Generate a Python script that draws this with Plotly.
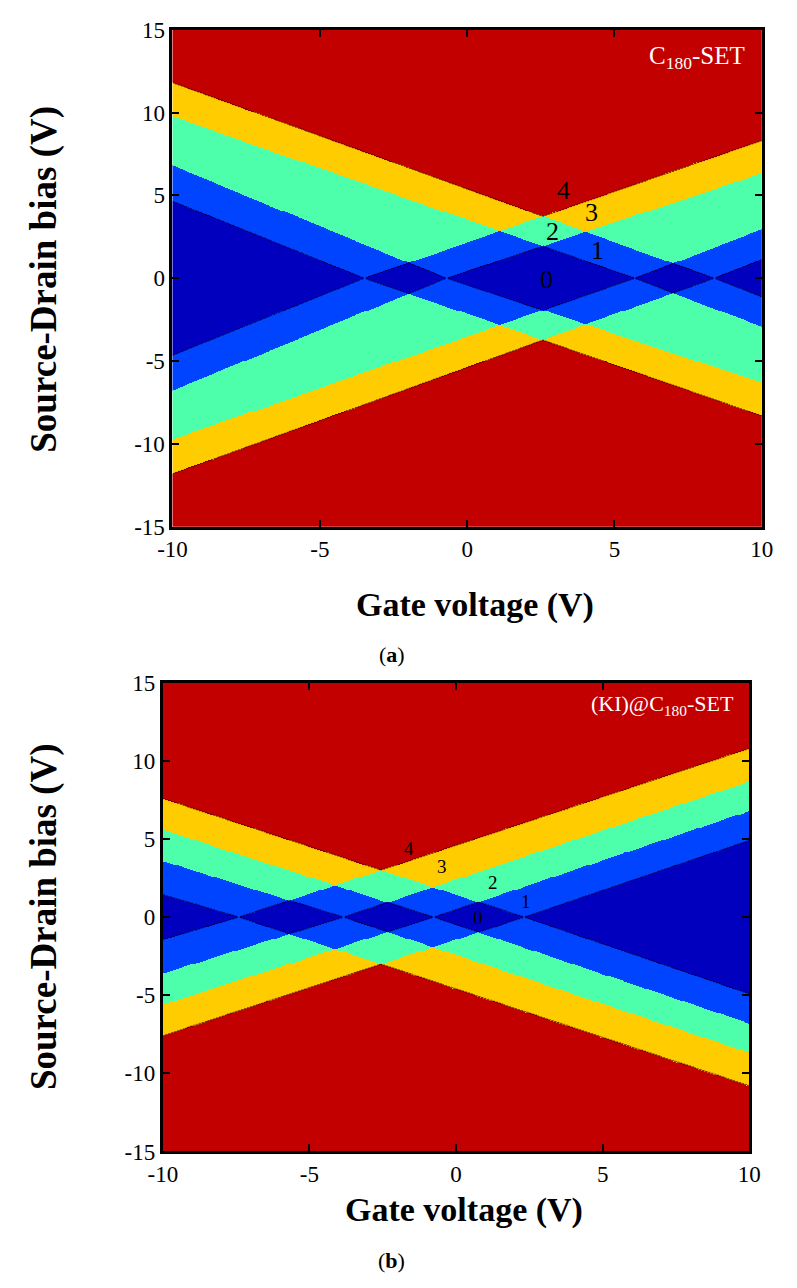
import numpy as np
import plotly.graph_objects as go

# ---------------- data ----------------
# Panel (a): C180-SET  -- charge-degeneracy gate voltages (V) where the
# zero-current diamonds touch Vsd = 0, and slopes of the edges of each cone
A_GATE_DEG = [-3.49, -0.70, 5.69, 8.39]
A_SLOPE_LEFT = [0.714, 0.730, 0.621, 0.642]
A_SLOPE_RIGHT = [0.616, 0.590, 0.682, 0.696]

# Panel (b): (KI)@C180-SET
B_GATE_DEG = [-7.41, -3.84, -0.76, 2.33]
B_SLOPE_LEFT = [0.556, 0.584, 0.606, 0.616]
B_SLOPE_RIGHT = [0.620, 0.626, 0.630, 0.639]

# in-plot region labels
A_LABEL_TEXT = ["4", "3", "2", "1", "0"]
A_LABEL_X = [3.26, 4.22, 2.91, 4.44, 2.69]
A_LABEL_Y = [5.27, 3.98, 2.80, 1.68, -0.05]
B_LABEL_TEXT = ["4", "3", "2", "1", "0"]
B_LABEL_X = [-1.59, -0.49, 1.27, 2.37, 0.75]
B_LABEL_Y = [4.41, 3.22, 2.24, 1.02, 0.0]

X_TICKS = [-10, -5, 0, 5, 10]
Y_TICKS = [-15, -10, -5, 0, 5, 10, 15]
X_TICK_TEXT = ["-10", "-5", "0", "5", "10"]
Y_TICK_TEXT = ["-15", "-10", "-5", "0", "5", "10", "15"]
X_RANGE = [-10, 10]
Y_RANGE = [-15, 15]

LEVEL_COLORS = ["#0000BE", "#0044FF", "#4DFFAA", "#FFCC00", "#C20000"]

W, H = 797, 1288
SERIF = "Liberation Serif, Times New Roman, serif"


def occupancy(gates, s_left, s_right, xs, ys):
    X, Y = np.meshgrid(xs, ys)
    z = np.zeros(X.shape, dtype=np.int8)
    for g, a, b in zip(gates, s_left, s_right):
        edge = np.where(X < g, a * (g - X), b * (X - g))
        z += (np.abs(Y) > edge).astype(np.int8)
    return np.minimum(z, 4)


def discrete_scale(colors):
    n = len(colors)
    sc = []
    for i, c in enumerate(colors):
        sc.append([i / n, c])
        sc.append([(i + 1) / n, c])
    return sc


xs = np.linspace(X_RANGE[0], X_RANGE[1], 611)
ys = np.linspace(Y_RANGE[0], Y_RANGE[1], 508)
zA = occupancy(A_GATE_DEG, A_SLOPE_LEFT, A_SLOPE_RIGHT, xs, ys)
zB = occupancy(B_GATE_DEG, B_SLOPE_LEFT, B_SLOPE_RIGHT, xs, ys)

fig = go.Figure()
cs = discrete_scale(LEVEL_COLORS)
for z, xa, ya in [(zA, "x", "y"), (zB, "x2", "y2")]:
    fig.add_trace(go.Heatmap(x=xs, y=ys, z=z, colorscale=cs, zmin=-0.5, zmax=4.5,
                             showscale=False, hoverinfo="skip", xaxis=xa, yaxis=ya))
    for lev, col in [(0.5, "rgba(0,0,70,0.8)"), (3.5, "rgba(90,0,0,0.8)")]:
        fig.add_trace(go.Contour(x=xs, y=ys, z=z, autocontour=False,
                                 contours=dict(start=lev, end=lev, size=1, coloring="none"),
                                 line=dict(color=col, width=1), showscale=False,
                                 hoverinfo="skip", xaxis=xa, yaxis=ya))


def px_dom_x(a, b):
    return [a / W, b / W]


def px_dom_y(top, bottom):
    return [1 - bottom / H, 1 - top / H]


axis_common = dict(showgrid=False, zeroline=False, showline=True, linewidth=3,
                   linecolor="black", mirror="ticks", ticks="inside", ticklen=7,
                   tickwidth=2, tickcolor="black",
                   tickfont=dict(family=SERIF, size=23, color="black"))

fig.update_layout(
    width=W, height=H, margin=dict(l=0, r=0, t=0, b=0),
    paper_bgcolor="white", plot_bgcolor="white", showlegend=False,
    xaxis=dict(domain=px_dom_x(163, 773), range=X_RANGE, tickvals=X_TICKS,
               ticktext=X_TICK_TEXT, anchor="y", **axis_common),
    yaxis=dict(domain=px_dom_y(18, 525), range=Y_RANGE, tickvals=Y_TICKS,
               ticktext=Y_TICK_TEXT, anchor="x", **axis_common),
    xaxis2=dict(domain=px_dom_x(153, 760), range=X_RANGE, tickvals=X_TICKS,
                ticktext=X_TICK_TEXT, anchor="y2", **axis_common),
    yaxis2=dict(domain=px_dom_y(684, 1162), range=Y_RANGE, tickvals=Y_TICKS,
                ticktext=Y_TICK_TEXT, anchor="x2", **axis_common),
)

ann = []
for t, x, y in zip(A_LABEL_TEXT, A_LABEL_X, A_LABEL_Y):
    ann.append(dict(text=t, x=x, y=y, xref="x", yref="y", showarrow=False,
                    font=dict(family=SERIF, size=26, color="black")))
for t, x, y in zip(B_LABEL_TEXT, B_LABEL_X, B_LABEL_Y):
    ann.append(dict(text=t, x=x, y=y, xref="x2", yref="y2", showarrow=False,
                    font=dict(family=SERIF, size=19, color="black")))

ann.append(dict(text="C<sub>180</sub>-SET", x=9.5, y=13.3, xref="x", yref="y",
                xanchor="right", yanchor="middle", showarrow=False,
                font=dict(family=SERIF, size=25, color="white")))
ann.append(dict(text="(KI)@C<sub>180</sub>-SET", x=9.56, y=13.6, xref="x2", yref="y2",
                xanchor="right", yanchor="middle", showarrow=False,
                font=dict(family=SERIF, size=22, color="white")))


def pap(xp, yp):
    return xp / W, 1 - yp / H


for (xp, yp, txt, rot, size) in [
    (476, 605, "<b>Gate voltage (V)</b>", 0, 34),
    (30, 272, "<b>Source-Drain bias (V)</b>", -90, 37),
    (465, 1222, "<b>Gate voltage (V)</b>", 0, 34),
    (30, 922, "<b>Source-Drain bias (V)</b>", -90, 37),
    (390, 655, "(<b>a</b>)", 0, 22),
    (390, 1273, "(<b>b</b>)", 0, 22),
]:
    px_, py_ = pap(xp, yp)
    ann.append(dict(text=txt, x=px_, y=py_, xref="paper", yref="paper",
                    showarrow=False, textangle=rot, xanchor="center", yanchor="middle",
                    font=dict(family=SERIF, size=size, color="black")))

fig.update_layout(annotations=ann)
fig.write_html("out.html", config={"displayModeBar": False},
               post_script="document.body.style.margin='0px';document.body.style.overflow='hidden';")
